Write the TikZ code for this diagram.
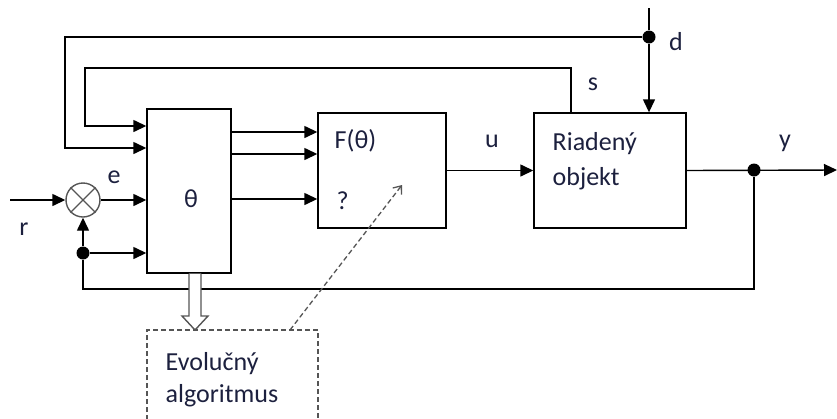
\documentclass[tikz,border=0pt]{standalone}
\usepackage{fontspec}
\setmainfont{Carlito}
\usetikzlibrary{arrows.meta}
\definecolor{txt}{RGB}{28,32,62}
\definecolor{gline}{RGB}{85,85,85}
\begin{document}
\begin{tikzpicture}[x=1pt,y=-1pt,
  line width=1.4pt,
  blk/.style={draw, fill=white, inner sep=0pt},
  arr/.style={-{Triangle[length=13pt,width=12pt]}},
  lbl/.style={text=txt, font=\fontsize{26pt}{30pt}\selectfont, inner sep=0pt, anchor=base},
  lblw/.style={lbl, anchor=base west},
  dotc/.style={circle, fill=black, inner sep=0pt, minimum size=13pt}]
\useasboundingbox (0,0) rectangle (837,418);

% blocks
\node[blk, minimum width=84pt, minimum height=164pt] (th) at (189,191) {};
\node[blk, minimum width=128pt, minimum height=115pt] (F) at (382,170.5) {};
\node[blk, minimum width=152pt, minimum height=115pt] (R) at (610,170.5) {};
\node[circle, draw=gline, minimum size=34pt, inner sep=0pt] (sum) at (83,200) {};
\draw[gline] (sum.north west) -- (sum.south east) (sum.north east) -- (sum.south west);

% texts
\node[lbl] (tht) at (191,207) {θ};
\node[lblw] (Ft) at (334,148) {F(θ)};
\node[lblw] (q) at (336,209) {?};
\node[lblw] (R1) at (552,150) {Riadený};
\node[lblw] (R2) at (552,185) {objekt};
\node[lbl] (lr) at (24,235) {r};
\node[lbl] (le) at (114,183) {e};
\node[lbl] (lu) at (492,147) {u};
\node[lbl] (ly) at (785,147) {y};
\node[lbl] (ld) at (676,50) {d};
\node[lbl] (ls) at (593,90) {s};
\node[lblw] (E1) at (165,370) {Evolučný};
\node[lblw] (E2) at (165,402) {algoritmus};

% coordinates
\coordinate (rin) at (10,200);
\coordinate (dtop) at (649,8);
\node[dotc] (dd) at (649,37) {};
\node[dotc] (dy) at (754,170) {};
\node[dotc] (df) at (83,253) {};
\coordinate (yout) at (837,170);
\coordinate (sx) at (571,68);

% input
\draw[arr] (rin) -- (sum.west);
\draw[arr] (sum.east) -- (th.west |- sum);
% theta -> F
\foreach \yy in {132,154,199} \draw[arr] (th.east |- 0,\yy) -- (F.west |- 0,\yy);
% F -> R
\draw[arr] (F.east) -- (R.west);
% R -> out
\draw[arr] (R.east) -- (yout);
% disturbance
\draw[arr] (dtop) -- (dd) -- (R.north -| dd);
% outer loop from d
\draw[arr] (dd) -- (65,37) -- (65,148) -- (th.west |- 0,148);
% inner loop from s
\draw[arr] (R.north -| sx) -- (sx) -- (85,68) -- (85,126) -- (th.west |- 0,126);
% feedback
\draw (dy) -- (754,289) -- (83,289) -- (df);
\draw[arr] (df) -- (sum.south);
\draw[arr] (df) -- (th.west |- df);

% double arrow theta -> EA
\draw[gline, fill=white, line join=miter] (189,273.7) -- (189,316) -- (182,316) -- (195,330) -- (208,316) -- (201,316) -- (201,273.7);

% EA dashed box (open at the bottom, cut by the picture edge)
\draw[dash pattern=on 5pt off 3pt, gline, line width=1.3pt] (147,420) -- (147,330) -- (318,330) -- (318,420);

% dashed arrow
\coordinate (da) at (290,330);
\coordinate (db) at (402,185);
\draw[dash pattern=on 5pt off 3pt, gline, line width=1.3pt, -{Straight Barb[length=7pt,width=11pt]}] (da) -- (db);
\end{tikzpicture}
\end{document}
